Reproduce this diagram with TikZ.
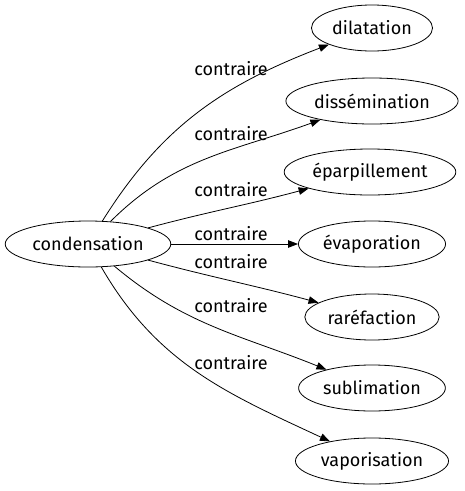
\documentclass[tikz,border=0pt]{standalone}
\usepackage{fontspec}
\setmainfont{Fira Sans}
\usepackage{tikz}
\usetikzlibrary{arrows.meta,positioning,shapes.geometric}
\tikzset{
  wordbox/.style={
    draw,ellipse,line width=0.8pt,inner xsep=3pt,inner ysep=2pt,
    minimum height=46pt,font=\fontsize{18}{21}\selectfont
  },
  relarrow/.style={-{Triangle[length=10pt,width=7.5pt]},line width=0.8pt},
  rellabel/.style={font=\fontsize{18}{21}\selectfont,inner sep=0pt}
}

\begin{document}
\begin{tikzpicture}[x=1pt,y=-1pt]
  \useasboundingbox[fill=white] (0,0) rectangle (465,491);
  \node[wordbox] (cond) at (88,244) {condensation};
  \node[wordbox] (dil) at (372,28) {dilatation};
  \node[wordbox] (dis) at (372,101) {dissémination};
  \node[wordbox] (epa) at (370,172) {éparpillement};
  \node[wordbox] (eva) at (372,244) {évaporation};
  \node[wordbox] (rar) at (372,317) {raréfaction};
  \node[wordbox] (sub) at (372,388) {sublimation};
  \node[wordbox] (vap) at (372,461) {vaporisation};
  \draw[relarrow] (cond) to[out=58,in=201] (dil);
  \draw[relarrow] (cond) to[out=45,in=200] (dis);
  \draw[relarrow] (cond) to[out=15,in=195] (epa);
  \draw[relarrow] (cond) -- (eva);
  \draw[relarrow] (cond) to[out=-15,in=165] (rar);
  \draw[relarrow] (cond) to[out=-40,in=158] (sub);
  \draw[relarrow] (cond) to[out=-60,in=155] (vap);
  \node[rellabel] (l1) at (231,69) {contraire};
  \node[rellabel] (l2) at (231,134) {contraire};
  \node[rellabel] (l3) at (231,190) {contraire};
  \node[rellabel] (l4) at (231,234) {contraire};
  \node[rellabel] (l5) at (231,262) {contraire};
  \node[rellabel] (l6) at (231,306) {contraire};
  \node[rellabel] (l7) at (231,363) {contraire};
\end{tikzpicture}
\end{document}
